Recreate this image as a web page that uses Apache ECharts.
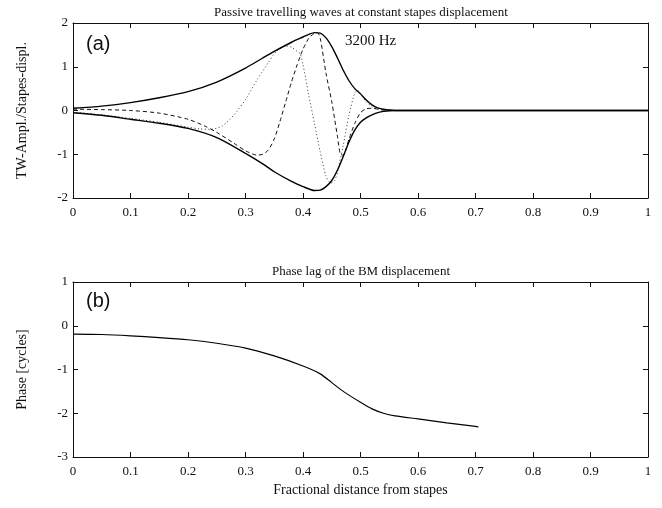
<!DOCTYPE html>
<html>
<head>
<meta charset="utf-8">
<script src="https://cdn.jsdelivr.net/npm/echarts@6/dist/echarts.min.js"></script>
<style>
  html, body { margin: 0; padding: 0; background: #fff; }
  #chart { width: 662px; height: 508px; }
</style>
</head>
<body>
<div id="chart"></div>
<script>
// Panel (a): travelling-wave envelope and two snapshots at 3200 Hz
const envUpperX = [0, 0.05, 0.1, 0.15, 0.2, 0.25, 0.3, 0.33, 0.35, 0.38, 0.4, 0.41, 0.42, 0.43, 0.44, 0.45, 0.46, 0.47, 0.48, 0.49, 0.5, 0.51, 0.52, 0.53, 0.54, 0.55, 0.56, 1.0];
const envUpperY = [0.05, 0.1, 0.18, 0.29, 0.43, 0.65, 0.97, 1.2, 1.35, 1.56, 1.68, 1.74, 1.78, 1.77, 1.66, 1.46, 1.2, 0.92, 0.68, 0.5, 0.38, 0.24, 0.13, 0.06, 0.03, 0.01, 0, 0];

const envLowerX = [0, 0.05, 0.1, 0.15, 0.2, 0.25, 0.3, 0.33, 0.35, 0.38, 0.4, 0.42, 0.43, 0.44, 0.45, 0.46, 0.47, 0.48, 0.49, 0.5, 0.51, 0.52, 0.53, 0.54, 0.56, 1.0];
const envLowerY = [-0.05, -0.11, -0.2, -0.29, -0.41, -0.62, -0.98, -1.22, -1.4, -1.62, -1.74, -1.83, -1.82, -1.74, -1.6, -1.36, -1.05, -0.72, -0.45, -0.27, -0.17, -0.1, -0.05, -0.02, 0, 0];

const waveDashX = [0, 0.05, 0.1, 0.15, 0.2, 0.23, 0.25, 0.28, 0.3, 0.32, 0.33, 0.34, 0.35, 0.36, 0.37, 0.38, 0.39, 0.4, 0.41, 0.42, 0.425, 0.43, 0.44, 0.45, 0.46, 0.465, 0.47, 0.48, 0.49, 0.5, 0.51, 0.52, 0.53, 0.54, 0.56, 1.0];
const waveDashY = [0.03, 0.02, 0, -0.06, -0.2, -0.36, -0.5, -0.75, -0.92, -1.02, -1.0, -0.9, -0.65, -0.25, 0.2, 0.65, 1.05, 1.4, 1.65, 1.77, 1.78, 1.65, 0.85, 0.2, -0.6, -1.0, -1.02, -0.65, -0.3, -0.05, 0.04, 0.05, 0.03, 0.01, 0, 0];

const waveDotX = [0, 0.05, 0.1, 0.15, 0.2, 0.22, 0.24, 0.26, 0.28, 0.3, 0.32, 0.34, 0.35, 0.36, 0.37, 0.38, 0.39, 0.395, 0.4, 0.41, 0.42, 0.43, 0.44, 0.448, 0.455, 0.46, 0.47, 0.48, 0.49, 0.495, 0.5, 0.51, 0.52, 0.53, 0.54, 0.56, 1.0];
const waveDotY = [-0.04, -0.1, -0.18, -0.27, -0.38, -0.42, -0.43, -0.35, -0.1, 0.25, 0.7, 1.1, 1.3, 1.42, 1.47, 1.45, 1.35, 1.3, 1.05, 0.35, -0.3, -0.95, -1.5, -1.66, -1.6, -1.4, -0.8, -0.1, 0.4, 0.46, 0.38, 0.2, 0.09, 0.04, 0.01, 0, 0];

// Panel (b): phase lag along the partition
const phaseX = [0, 0.05, 0.1, 0.15, 0.2, 0.25, 0.3, 0.35, 0.4, 0.43, 0.45, 0.47, 0.5, 0.52, 0.54, 0.56, 0.6, 0.65, 0.7, 0.705];
const phaseY = [-0.19, -0.2, -0.23, -0.27, -0.32, -0.4, -0.51, -0.69, -0.92, -1.1, -1.3, -1.5, -1.75, -1.9, -2.0, -2.06, -2.13, -2.22, -2.3, -2.31];

const zip = (xs, ys) => xs.map((x, i) => [x, ys[i]]);

const SERIF = '"Liberation Serif", "DejaVu Serif", serif';
const SANS = '"Liberation Sans", Arial, sans-serif';
const INK = '#111';

function xAxisFor(grid, withLabels, name) {
  return {
    type: 'value', gridIndex: grid, min: 0, max: 1, interval: 0.1,
    position: withLabels ? 'bottom' : 'top',
    axisLine: { show: true, onZero: false, lineStyle: { color: INK, width: 1 } },
    axisTick: { show: true, inside: true, length: 5, lineStyle: { color: INK } },
    axisLabel: { show: withLabels, color: INK, fontFamily: SERIF, fontSize: 13, margin: 8,
      formatter: v => String(Math.round(v * 10) / 10) },
    splitLine: { show: false },
    name: name || '', nameLocation: 'middle', nameGap: 26,
    nameTextStyle: { color: INK, fontFamily: SERIF, fontSize: 14 }
  };
}

function yAxisFor(grid, min, max, withLabels, name) {
  return {
    type: 'value', gridIndex: grid, min: min, max: max, interval: 1,
    position: withLabels ? 'left' : 'right',
    axisLine: { show: true, onZero: false, lineStyle: { color: INK, width: 1 } },
    axisTick: { show: true, inside: true, length: 5, lineStyle: { color: INK } },
    axisLabel: { show: withLabels, color: INK, fontFamily: SERIF, fontSize: 13, margin: 5 },
    splitLine: { show: false },
    name: name || '', nameLocation: 'middle', nameGap: 44, nameRotate: 90,
    nameTextStyle: { color: INK, fontFamily: SERIF, fontSize: 14 }
  };
}

function line(data, xi, yi, type, width, color) {
  return {
    type: 'line', xAxisIndex: xi, yAxisIndex: yi, data: data,
    showSymbol: false, smooth: 0.25, animation: false,
    lineStyle: { color: color, width: width, type: type }
  };
}

const chart = echarts.init(document.getElementById('chart'));
chart.setOption({
  backgroundColor: '#fff',
  animation: false,
  title: [
    { text: 'Passive travelling waves at constant stapes displacement', left: 361, top: 6, textAlign: 'center', padding: 0,
      textStyle: { fontFamily: SERIF, fontSize: 13, fontWeight: 'normal', color: INK } },
    { text: 'Phase lag of the BM displacement', left: 361, top: 265, textAlign: 'center', padding: 0,
      textStyle: { fontFamily: SERIF, fontSize: 13, fontWeight: 'normal', color: INK } }
  ],
  grid: [
    { left: 73, right: 14, top: 23, height: 175 },
    { left: 73, right: 14, top: 282, height: 175 }
  ],
  xAxis: [
    xAxisFor(0, true),
    xAxisFor(1, true, 'Fractional distance from stapes'),
    xAxisFor(0, false),
    xAxisFor(1, false)
  ],
  yAxis: [
    yAxisFor(0, -2, 2, true, 'TW-Ampl./Stapes-displ.'),
    yAxisFor(1, -3, 1, true, 'Phase [cycles]'),
    yAxisFor(0, -2, 2, false),
    yAxisFor(1, -3, 1, false)
  ],
  series: [
    line(zip(waveDotX, waveDotY), 0, 0, [1, 2.5], 1, '#333'),
    line(zip(waveDashX, waveDashY), 0, 0, [4, 3], 1, '#111'),
    line(zip(envUpperX, envUpperY), 0, 0, 'solid', 1.4, '#000'),
    line(zip(envLowerX, envLowerY), 0, 0, 'solid', 1.4, '#000'),
    line(zip(phaseX, phaseY), 1, 1, 'solid', 1.2, '#000')
  ],
  graphic: [
    { type: 'text', left: 86, top: 34, style: { text: '(a)', font: '20px ' + SANS, fill: INK } },
    { type: 'text', left: 86, top: 291, style: { text: '(b)', font: '20px ' + SANS, fill: INK } },
    { type: 'text', left: 345, top: 34, style: { text: '3200 Hz', font: '15px ' + SERIF, fill: INK } }
  ]
});
</script>
</body>
</html>
